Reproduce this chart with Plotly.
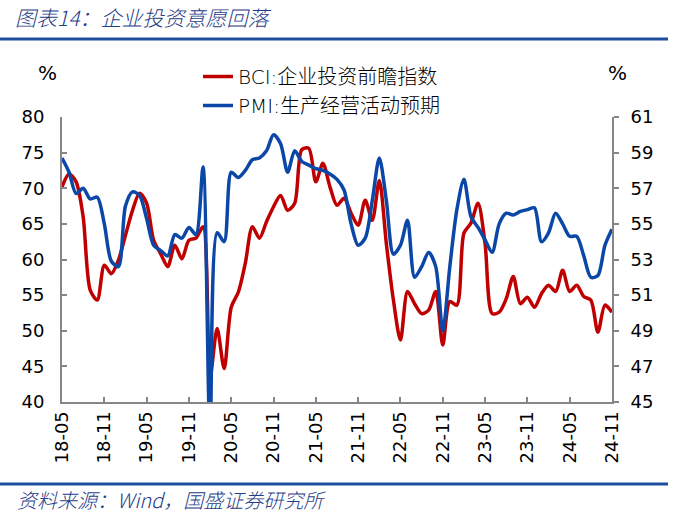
import plotly.graph_objects as go
import pandas as pd

# ---- data ----
months = [p.strftime("%y-%m") for p in pd.period_range("2018-05", "2024-11", freq="M")]

bci = [70.2, 72.0, 70.9, 66.0, 55.7, 54.3, 59.2, 58.0, 59.9, 63.4,
       66.9, 69.3, 67.9, 62.7, 60.8, 59.0, 62.0, 60.1, 62.7, 63.0,
       64.6, 43.5, 50.3, 44.7, 53.3, 55.4, 59.5, 64.6, 63.0, 65.3,
       67.4, 69.0, 66.9, 67.9, 75.4, 75.6, 70.9, 73.5, 70.2, 67.6,
       68.6, 66.5, 64.8, 68.3, 65.5, 71.1, 62.2, 54.3, 48.7, 55.5,
       53.8, 52.4, 52.9, 55.5, 48.0, 54.1, 53.6, 63.7, 65.1, 67.9,
       62.2, 52.4, 52.6, 54.5, 57.6, 53.8, 54.7, 53.3, 55.2, 56.4,
       55.5, 58.5, 55.5, 56.4, 54.8, 54.3, 49.8, 53.6, 52.6]

pmi = [58.7, 57.9, 56.7, 57.0, 56.4, 56.5, 55.0, 52.9, 52.6, 56.0,
       56.8, 56.6, 55.3, 53.8, 53.5, 53.2, 54.4, 54.2, 54.8, 54.4,
       58.2, 43.0, 54.5, 54.0, 57.9, 57.6, 58.0, 58.6, 58.7, 59.1,
       60.0, 59.5, 57.9, 59.1, 58.5, 58.3, 58.1, 58.0, 57.8, 57.5,
       56.9, 55.0, 53.8, 54.2, 56.3, 58.7, 56.3, 53.3, 53.8, 55.2,
       52.0, 52.6, 53.4, 52.6, 49.0, 52.6, 55.8, 57.5, 55.4, 54.8,
       54.1, 53.4, 55.0, 55.6, 55.5, 55.7, 55.8, 55.9, 54.0, 54.5,
       55.6, 55.0, 54.3, 54.3, 53.2, 52.0, 52.1, 53.8, 54.7]

tick_labels = ["18-05", "18-11", "19-05", "19-11", "20-05", "20-11", "21-05",
               "21-11", "22-05", "22-11", "23-05", "23-11", "24-05", "24-11"]

series_names = ["BCI:企业投资前瞻指数", "PMI:生产经营活动预期"]
title_text = "图表14：企业投资意愿回落"
source_text = "资料来源：Wind，国盛证券研究所"

RED = "#C00000"
BLUE = "#0A47A6"
RULE = "#1F4E9F"
GREY = "#868686"
FONT = "DejaVu Sans, Noto Sans CJK SC"

fig = go.Figure()
fig.add_trace(go.Scatter(x=months, y=bci, name=series_names[0], mode="lines",
                         line=dict(color=RED, width=3.5, shape="spline", smoothing=0.8)))
fig.add_trace(go.Scatter(x=months, y=pmi, name=series_names[1], mode="lines", yaxis="y2",
                         line=dict(color=BLUE, width=3.5, shape="spline", smoothing=0.8)))

# pixel -> paper helpers (plot area 62..612 x, 117..402 y)
def px(x):
    return (x - 62) / 550.0

def py(y):
    return (402 - y) / 285.0

fig.update_layout(
    width=700, height=521,
    margin=dict(l=62, r=88, t=117, b=119, autoexpand=False),
    plot_bgcolor="white", paper_bgcolor="white",
    font=dict(family=FONT, color="black"),
    showlegend=True,
    legend=dict(x=px(198), y=py(57), xanchor="left", yanchor="top",
                font=dict(family=FONT, size=20, color="black", weight=300),
                bgcolor="rgba(0,0,0,0)", borderwidth=0, tracegroupgap=0),
    xaxis=dict(type="category", range=[0, len(months) - 1], automargin=False,
               tickmode="array", tickvals=tick_labels, ticktext=tick_labels,
               tickangle=-90, ticks="inside", ticklen=5, tickcolor=GREY, tickwidth=1.5,
               showline=True, linecolor=GREY, linewidth=2, showgrid=False, zeroline=False,
               tickfont=dict(family=FONT, size=18, color="black")),
    yaxis=dict(range=[40, 80], dtick=5, tick0=40, automargin=False,
               ticks="inside", ticklen=5, tickcolor=GREY, tickwidth=1.5,
               showline=True, linecolor=GREY, linewidth=2, showgrid=False, zeroline=False,
               ticklabelstandoff=12,
               tickfont=dict(family=FONT, size=18, color="black")),
    yaxis2=dict(range=[45, 61], dtick=2, tick0=45, overlaying="y", side="right", automargin=False,
                ticks="outside", ticklen=5, tickcolor=GREY, tickwidth=1.5,
                showline=True, linecolor=GREY, linewidth=2, showgrid=False, zeroline=False,
                ticklabelstandoff=8,
                tickfont=dict(family=FONT, size=18, color="black")),
)

fig.add_shape(type="line", xref="paper", yref="paper", x0=px(0), x1=px(668), y0=py(39), y1=py(39),
              line=dict(color=RULE, width=3))
fig.add_shape(type="line", xref="paper", yref="paper", x0=px(0), x1=px(668), y0=py(484), y1=py(484),
              line=dict(color=RULE, width=3))

fig.add_annotation(text=f"<i>{title_text}</i>", xref="paper", yref="paper", x=px(13), y=py(17),
                   xanchor="left", yanchor="middle", showarrow=False,
                   font=dict(family="Noto Sans CJK SC", size=21, color="#1F3C88", weight=300))
fig.add_annotation(text=f"<i>{source_text}</i>", xref="paper", yref="paper", x=px(15), y=py(499),
                   xanchor="left", yanchor="middle", showarrow=False,
                   font=dict(family="Noto Sans CJK SC", size=20, color="#1F3C88", weight=300))
fig.add_annotation(text="%", xref="paper", yref="paper", x=px(47), y=py(73),
                   xanchor="center", yanchor="middle", showarrow=False,
                   font=dict(family=FONT, size=20, color="black"))
fig.add_annotation(text="%", xref="paper", yref="paper", x=px(617), y=py(73),
                   xanchor="center", yanchor="middle", showarrow=False,
                   font=dict(family=FONT, size=20, color="black"))

fig.write_html("out.html", config={"displayModeBar": False},
               post_script="document.body.style.margin='0';document.body.style.overflow='hidden';")
